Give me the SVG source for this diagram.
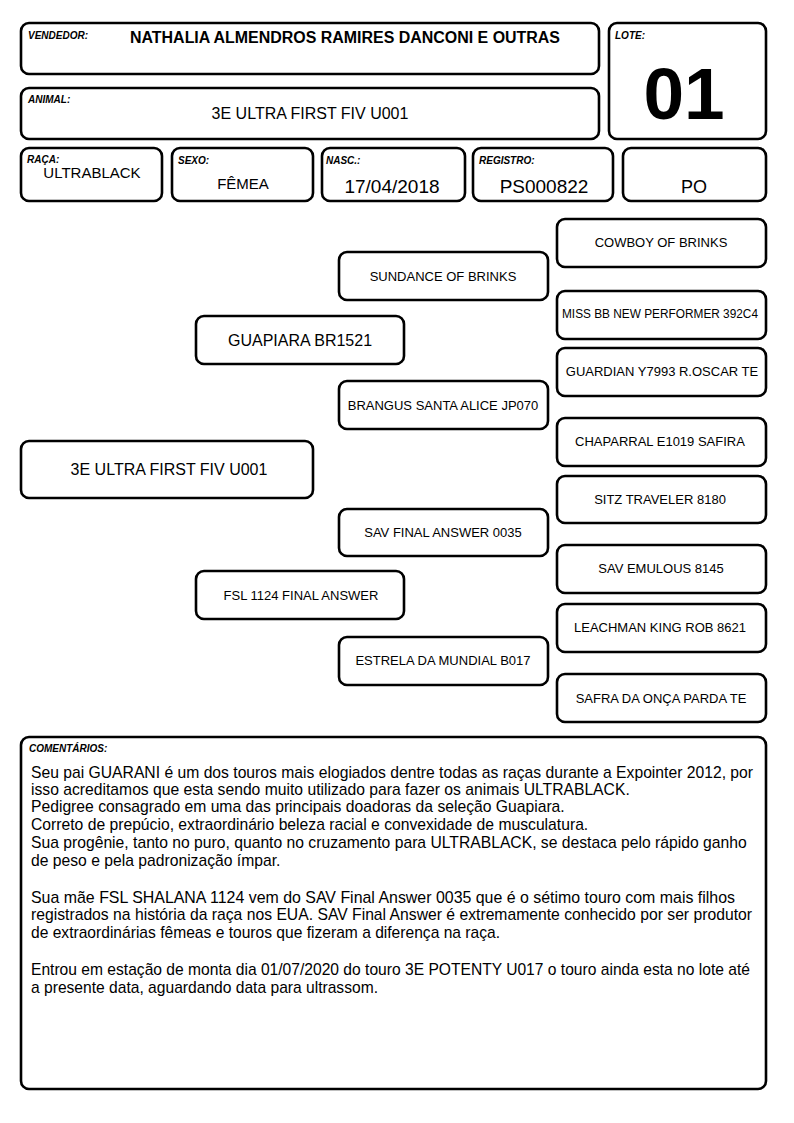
<svg xmlns="http://www.w3.org/2000/svg" width="794" height="1123" viewBox="0 0 794 1123">
<style>
.b{fill:#fff;stroke:#000;stroke-width:2.6}
.l{font-family:"Liberation Sans",Arial,sans-serif;font-size:10px;font-weight:bold;font-style:italic;fill:#000}
.t{font-family:"Liberation Sans",Arial,sans-serif;fill:#000}
.n{font-family:"Liberation Sans",Arial,sans-serif;font-size:13px;fill:#000;text-anchor:middle}
.n16{font-size:16px}
.n12{font-size:12px}
.c{font-family:"Liberation Sans",Arial,sans-serif;font-size:15.7px;fill:#000}
</style>
<rect width="794" height="1123" fill="#fff"/>
<g id="vendedor"><rect class="b" x="21" y="23" width="578" height="51" rx="8"/><text class="l" x="28" y="39">VENDEDOR:</text><text class="t" x="345" y="43" font-size="16" font-weight="bold" text-anchor="middle" textLength="430" lengthAdjust="spacingAndGlyphs">NATHALIA ALMENDROS RAMIRES DANCONI E OUTRAS</text></g>
<g id="animal"><rect class="b" x="21" y="88" width="578" height="51" rx="8"/><text class="l" x="28" y="103">ANIMAL:</text><text class="t" x="310" y="119" font-size="16" text-anchor="middle">3E ULTRA FIRST FIV U001</text></g>
<g id="lote"><rect class="b" x="609" y="23" width="157" height="116" rx="8"/><text class="l" x="615" y="39">LOTE:</text><text class="t" x="684" y="119" font-size="73" font-weight="bold" text-anchor="middle">01</text></g>
<g id="raca"><rect class="b" x="21" y="148" width="141" height="53" rx="8"/><text class="l" x="27" y="163">RAÇA:</text><text class="t" x="92" y="178" font-size="15" text-anchor="middle">ULTRABLACK</text></g>
<g id="sexo"><rect class="b" x="172" y="148" width="141" height="53" rx="8"/><text class="l" x="178" y="164">SEXO:</text><text class="t" x="243" y="189" font-size="15" text-anchor="middle">FÊMEA</text></g>
<g id="nasc"><rect class="b" x="322" y="148" width="143" height="53" rx="8"/><text class="l" x="326" y="164">NASC.:</text><text class="t" x="392" y="193" font-size="19" text-anchor="middle">17/04/2018</text></g>
<g id="registro"><rect class="b" x="473" y="148" width="140" height="53" rx="8"/><text class="l" x="479" y="164">REGISTRO:</text><text class="t" x="544" y="193" font-size="19" text-anchor="middle">PS000822</text></g>
<g id="po"><rect class="b" x="623" y="148" width="143" height="53" rx="8"/><text class="t" x="694" y="193" font-size="18" text-anchor="middle">PO</text></g>
<g id="connectors"></g>
<g id="p-cowboy"><rect class="b" x="557" y="219" width="209" height="48" rx="8"/><text class="n" x="661" y="247">COWBOY OF BRINKS</text></g>
<g id="p-sundance"><rect class="b" x="339" y="252" width="209" height="48" rx="8"/><text class="n" x="443" y="281">SUNDANCE OF BRINKS</text></g>
<g id="p-missbb"><rect class="b" x="557" y="291" width="209" height="48" rx="8"/><text class="n n12" x="660" y="318" textLength="196" lengthAdjust="spacingAndGlyphs">MISS BB NEW PERFORMER 392C4</text></g>
<g id="p-guapiara"><rect class="b" x="196" y="316" width="208" height="48" rx="8"/><text class="n n16" x="300" y="346">GUAPIARA BR1521</text></g>
<g id="p-guardian"><rect class="b" x="557" y="348" width="209" height="48" rx="8"/><text class="n" x="662" y="376">GUARDIAN Y7993 R.OSCAR TE</text></g>
<g id="p-brangus"><rect class="b" x="339" y="381" width="209" height="48" rx="8"/><text class="n" x="443" y="410">BRANGUS SANTA ALICE JP070</text></g>
<g id="p-chaparral"><rect class="b" x="557" y="418" width="209" height="48" rx="8"/><text class="n" x="660" y="446">CHAPARRAL E1019 SAFIRA</text></g>
<g id="p-animal"><rect class="b" x="21" y="441" width="292" height="57" rx="8"/><text class="n n16" x="169" y="475">3E ULTRA FIRST FIV U001</text></g>
<g id="p-sitz"><rect class="b" x="557" y="476" width="209" height="47" rx="8"/><text class="n" x="660" y="504">SITZ TRAVELER 8180</text></g>
<g id="p-savfinal"><rect class="b" x="339" y="509" width="209" height="47" rx="8"/><text class="n" x="443" y="537">SAV FINAL ANSWER 0035</text></g>
<g id="p-emulous"><rect class="b" x="557" y="545" width="209" height="48" rx="8"/><text class="n" x="661" y="573">SAV EMULOUS 8145</text></g>
<g id="p-fsl"><rect class="b" x="196" y="571" width="208" height="48" rx="8"/><text class="n" x="301" y="600">FSL 1124 FINAL ANSWER</text></g>
<g id="p-leachman"><rect class="b" x="557" y="604" width="209" height="48" rx="8"/><text class="n" x="660" y="632">LEACHMAN KING ROB 8621</text></g>
<g id="p-estrela"><rect class="b" x="339" y="637" width="209" height="48" rx="8"/><text class="n" x="443" y="665">ESTRELA DA MUNDIAL B017</text></g>
<g id="p-safra"><rect class="b" x="557" y="674" width="209" height="48" rx="8"/><text class="n" x="661" y="703">SAFRA DA ONÇA PARDA TE</text></g>
<g id="comentarios"><rect class="b" x="21" y="737" width="745" height="352" rx="8"/><text class="l" x="29" y="752">COMENTÁRIOS:</text>
<text class="c" x="31" y="778">Seu pai GUARANI é um dos touros mais elogiados dentre todas as raças durante a Expointer 2012, por</text>
<text class="c" x="31" y="795">isso acreditamos que esta sendo muito utilizado para fazer os animais ULTRABLACK.</text>
<text class="c" x="31" y="812">Pedigree consagrado em uma das principais doadoras da seleção Guapiara.</text>
<text class="c" x="31" y="830">Correto de prepúcio, extraordinário beleza racial e convexidade de musculatura.</text>
<text class="c" x="31" y="848">Sua progênie, tanto no puro, quanto no cruzamento para ULTRABLACK, se destaca pelo rápido ganho</text>
<text class="c" x="31" y="866">de peso e pela padronização ímpar.</text>
<text class="c" x="31" y="903" textLength="704" lengthAdjust="spacingAndGlyphs">Sua mãe FSL SHALANA 1124 vem do SAV Final Answer 0035 que é o sétimo touro com mais filhos</text>
<text class="c" x="31" y="920" textLength="721" lengthAdjust="spacingAndGlyphs">registrados na história da raça nos EUA. SAV Final Answer é extremamente conhecido por ser produtor</text>
<text class="c" x="31" y="938" textLength="469" lengthAdjust="spacingAndGlyphs">de extraordinárias fêmeas e touros que fizeram a diferença na raça.</text>
<text class="c" x="31" y="975" textLength="719" lengthAdjust="spacingAndGlyphs">Entrou em estação de monta dia 01/07/2020 do touro 3E POTENTY U017 o touro ainda esta no lote até</text>
<text class="c" x="31" y="993" textLength="347" lengthAdjust="spacingAndGlyphs">a presente data, aguardando data para ultrassom.</text>
</g>
</svg>
